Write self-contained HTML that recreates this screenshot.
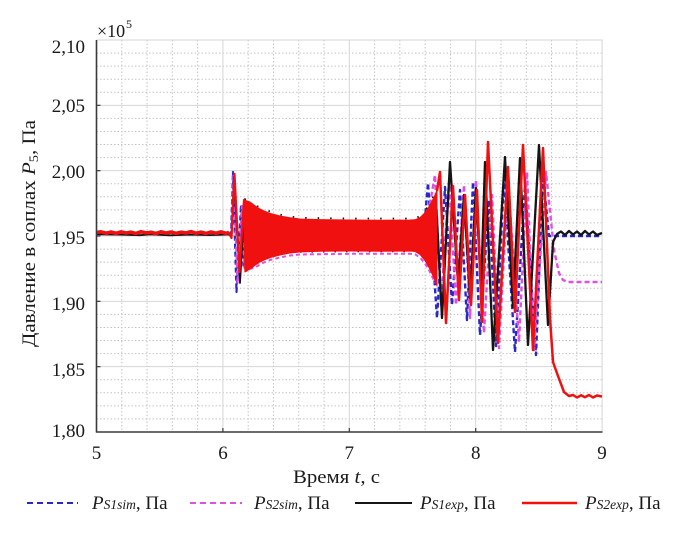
<!DOCTYPE html>
<html><head><meta charset="utf-8">
<style>
html,body{margin:0;padding:0;background:#fff;}
svg{display:block;}
text{font-family:"Liberation Serif","DejaVu Serif",serif;fill:#1a1a1a;}
</style></head><body>
<svg width="700" height="539" viewBox="0 0 700 539" xmlns="http://www.w3.org/2000/svg">
<rect x="0" y="0" width="700" height="539" fill="#fff"/>
<!-- minor grid -->
<path fill="none" stroke="#c4c4c4" stroke-width="1" stroke-dasharray="1.5 2" d="M121.78 40V432M147.06 40V432M172.34 40V432M197.62 40V432M248.18 40V432M273.46 40V432M298.74 40V432M324.02 40V432M374.58 40V432M399.86 40V432M425.14 40V432M450.42 40V432M500.98 40V432M526.26 40V432M551.54 40V432M576.82 40V432
M96.5 418.93H602M96.5 405.87H602M96.5 392.8H602M96.5 379.73H602
M96.5 353.6H602M96.5 340.53H602M96.5 327.47H602M96.5 314.4H602
M96.5 288.27H602M96.5 275.2H602M96.5 262.13H602M96.5 249.07H602
M96.5 222.93H602M96.5 209.87H602M96.5 196.8H602M96.5 183.73H602
M96.5 157.6H602M96.5 144.53H602M96.5 131.47H602M96.5 118.4H602
M96.5 92.27H602M96.5 79.2H602M96.5 66.13H602M96.5 53.07H602"/>
<!-- major grid -->
<path fill="none" stroke="#d6d6d6" stroke-width="1" d="M222.9 40V432M349.3 40V432M475.7 40V432M96.5 366.67H602M96.5 301.33H602M96.5 236H602M96.5 170.67H602M96.5 105.33H602M96.5 40H602.1V432"/>

<!-- ===== S1sim (blue dashed) ===== -->
<path fill="none" stroke="#2828c8" stroke-width="2.2" stroke-dasharray="5 3" stroke-linejoin="round"
d="M96.5 232.5L229 232.8L231 236L233 172L236.5 292L241 205L243.5 268L246 212L248.5 262L251 214L254 258L257 216L260 255L264 218L268 253L272 220"/>
<path fill="none" stroke="#2828c8" stroke-width="2.4" stroke-dasharray="5 3" stroke-linejoin="round"
d="M420 236L424 230L428 183L437 318L445 187L452 305L460 190L467 320L473 182L480 335L489 200L496 346L504 178L515 352L525 185L536 355L543 175L549 236L602 236"/>

<!-- ===== S2sim (magenta dashed) ===== -->
<path fill="none" stroke="#e050e0" stroke-width="2.2" stroke-dasharray="5 3" stroke-linejoin="round"
d="M96.5 232.5L230 232.5L231.5 236L233.5 174L237.5 284L242 206L244.5 268L247 210L249.5 266"/>
<path fill="none" stroke="#e050e0" stroke-width="2" stroke-dasharray="4 3" stroke-linejoin="round"
d="M249.5 269L255 267.5L260 264.5L265 262L270 260L280 257.5L290 255.5L300 254.5L350 253.8L410 253.8L415 254.3L420 257.5L425 263.5L430 272L435 283"/>
<path fill="none" stroke="#e050e0" stroke-width="2.4" stroke-dasharray="5 3" stroke-linejoin="round"
d="M424 236L428 215L435 175L441 305L449 182L456 305L464 185L470 318L476 180L484 333L492 195L499 348L508 180L519 342L527 172L534 350L546 172L554 250L559 273L563 280L568 282L602 282"/>

<!-- ===== S1exp (black) ===== -->
<path fill="none" stroke="#151515" stroke-width="1.8" stroke-linejoin="round"
d="M96.5 234.3L120 234.6L140 235.2L150 234.4L170 235.3L190 234.6L210 235.1L229 234.5"/>
<path fill="none" stroke="#151515" stroke-width="1.8" stroke-linejoin="round"
d="M229 234.5L231.5 237L234 177L240 283L245 199L247.5 270L250 204L252.5 267L255 208L257.5 264"/>
<path fill="none" stroke="#151515" stroke-width="1.8" stroke-dasharray="1.5 11"
d="M257 206L260 207.5L270 211.5L280 214.5L290 216.5L300 217.8L350 218.5L410 218.5L415 218.5L420 216L425 211L430 203L435 193"/>
<path fill="none" stroke="#151515" stroke-width="1.5" stroke-dasharray="1.5 10"
d="M300 252L350 251.5L410 251.5L415 252"/>
<path fill="none" stroke="#151515" stroke-width="2.3" stroke-linejoin="round"
d="M436 200L442 318L450 162L458 283L464 195L470 298L476 188L481 290L485 162L493 350L505 157L513 307L520 158L528 345L539 145L548 325L553 242L557 234L561 231.5L565 235L569 231L573 234.5L577 231.5L581 235L585 231L589 234.5L593 231.5L597 235L602 233"/>

<!-- ===== S2exp (red) ===== -->
<path fill="none" stroke="#f01010" stroke-width="3.6" stroke-linejoin="round"
d="M96.5 232.5L101 231.8L106 233.2L111 232L116 233.4L121 231.9L126 233L131 232.2L136 233.5L141 231.7L146 232.9L151 232.3L156 233.6L161 231.8L166 233.1L171 232L176 233.4L181 232.2L186 233L191 231.6L196 233.3L201 232.1L206 233.5L211 232L216 233.2L221 231.9L226 233.4L229 232.5"/>
<path fill="none" stroke="#f01010" stroke-width="2.2" stroke-linejoin="round"
d="M229 232.5L231.5 238L234.5 174L239.5 272L244 200L245.5 272"/>
<path fill="#f01010" stroke="#f01010" stroke-width="1" stroke-linejoin="round"
d="M244 200L250 202L255 205.8L260 209L265 211.4L270 213.3L280 216L290 217.8L300 219L320 219.6L350 220L380 220.3L410 220L415 219.8L420 217.6L425 212.7L430 205.2L435 195L437 190
L437 286L435 280.6L430 269.2L425 260.5L420 254.4L415 251.5L410 251L380 251.3L350 251L320 251.3L300 252L290 253L280 255L270 257.7L265 259.6L260 262L255 265.2L250 269L245 272Z"/>
<path fill="none" stroke="#f01010" stroke-width="2.5" stroke-linejoin="round"
d="M437 191L440 172L446 323L453 186L459 300L465 195L471 305L477 190L482 322L488 142L498 343L508 167L515 312L523 145L533 350L543 148L550 318L553 362L558 376L564 392L569 396L573 395L577 397.5L581 395.3L585 397.2L589 395L593 397.5L597 395.5L602 396.5"/>

<!-- axes -->
<line x1="96.5" y1="40" x2="96.5" y2="432.5" stroke="#3a3a3a" stroke-width="1.6"/>
<line x1="96" y1="432" x2="602.5" y2="432" stroke="#3a3a3a" stroke-width="1.6"/>
<g stroke="#3a3a3a" stroke-width="1.2">
<line x1="96.5" y1="105.33" x2="100.5" y2="105.33"/>
<line x1="96.5" y1="170.67" x2="100.5" y2="170.67"/>
<line x1="96.5" y1="236" x2="100.5" y2="236"/>
<line x1="96.5" y1="301.33" x2="100.5" y2="301.33"/>
<line x1="96.5" y1="366.67" x2="100.5" y2="366.67"/>
<line x1="222.9" y1="432" x2="222.9" y2="428"/>
<line x1="349.3" y1="432" x2="349.3" y2="428"/>
<line x1="475.7" y1="432" x2="475.7" y2="428"/>
</g>
<!-- y tick labels -->
<g font-size="19" text-anchor="end">
<text x="85" y="53">2,10</text>
<text x="85" y="112">2,05</text>
<text x="85" y="178">2,00</text>
<text x="85" y="244">1,95</text>
<text x="85" y="310">1,90</text>
<text x="85" y="376">1,85</text>
<text x="85" y="437">1,80</text>
</g>
<!-- x tick labels -->
<g font-size="19" text-anchor="middle">
<text x="96.5" y="459">5</text>
<text x="223" y="459">6</text>
<text x="349.3" y="459">7</text>
<text x="475.7" y="459">8</text>
<text x="602" y="459">9</text>
</g>
<text x="97" y="37" font-size="18">×10</text>
<text x="126" y="28" font-size="12">5</text>
<!-- axis labels -->
<text transform="translate(35,347) rotate(-90)" font-size="19" textLength="227" lengthAdjust="spacingAndGlyphs">Давление в соплах <tspan font-style="italic">P</tspan><tspan font-size="13" dy="3">5</tspan><tspan dy="-3">, Па</tspan></text>
<text x="293" y="483" font-size="19" textLength="87" lengthAdjust="spacingAndGlyphs">Время <tspan font-style="italic">t</tspan>, с</text>
<!-- legend -->
<line x1="27" y1="503" x2="78" y2="503" stroke="#2828c8" stroke-width="2" stroke-dasharray="6 4"/>
<line x1="190" y1="503" x2="242" y2="503" stroke="#e050e0" stroke-width="2" stroke-dasharray="6 4"/>
<line x1="355" y1="503" x2="412" y2="503" stroke="#151515" stroke-width="2"/>
<line x1="522" y1="503" x2="577" y2="503" stroke="#f01010" stroke-width="2.5"/>
<g font-size="19">
<text x="92" y="509"><tspan font-style="italic">P</tspan><tspan font-style="italic" font-size="13.5">S1sim</tspan>, Па</text>
<text x="254" y="509"><tspan font-style="italic">P</tspan><tspan font-style="italic" font-size="13.5">S2sim</tspan>, Па</text>
<text x="420" y="509"><tspan font-style="italic">P</tspan><tspan font-style="italic" font-size="13.5">S1exp</tspan>, Па</text>
<text x="585" y="509"><tspan font-style="italic">P</tspan><tspan font-style="italic" font-size="13.5">S2exp</tspan>, Па</text>
</g>
</svg>
</body></html>
